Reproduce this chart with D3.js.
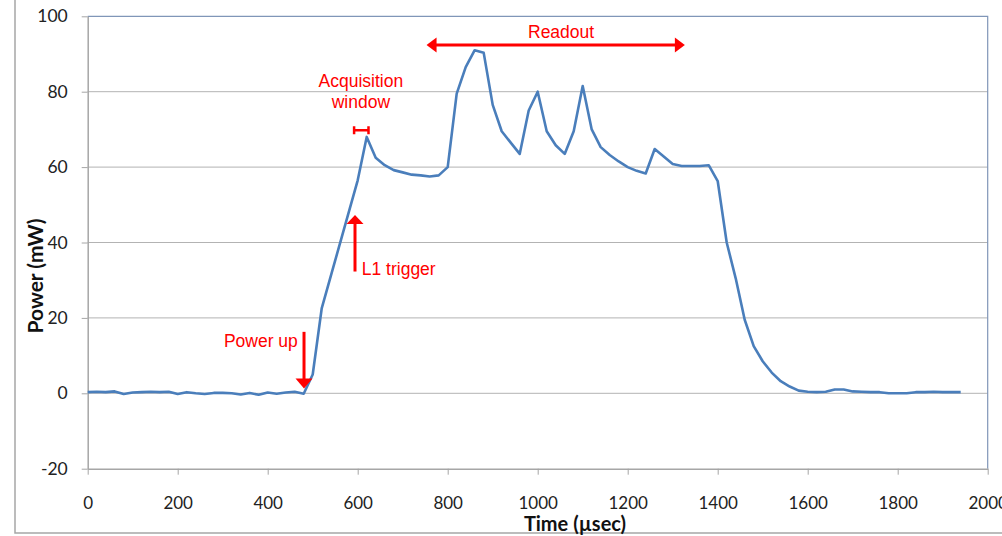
<!DOCTYPE html>
<html>
<head>
<meta charset="utf-8">
<script src="https://cdn.jsdelivr.net/npm/d3@7"></script>
<style>
  body { margin: 0; background: #fff; }
  svg { display: block; }
</style>
</head>
<body>
<svg id="chart" width="1002" height="536"></svg>
<script>
// ===============================
// Power vs time trace
// ===============================

// sample times (usec) and measured power (mW)
const times = [
  0, 20, 40, 60, 80, 100, 120, 140, 160, 180,
  200, 220, 240, 260, 280, 300, 320, 340, 360, 380,
  400, 420, 440, 460, 480, 500, 520, 540, 560, 580,
  600, 620, 640, 660, 680, 700, 720, 740, 760, 780,
  800, 820, 840, 860, 880, 900, 920, 940, 960, 980,
  1000, 1020, 1040, 1060, 1080, 1100, 1120, 1140, 1160, 1180,
  1200, 1220, 1240, 1260, 1280, 1300, 1320, 1340, 1360, 1380,
  1400, 1420, 1440, 1460, 1480, 1500, 1520, 1540, 1560, 1580,
  1600, 1620, 1640, 1660, 1680, 1700, 1720, 1740, 1760, 1780,
  1800, 1820, 1840, 1860, 1880, 1900, 1920, 1940
];
const power = [
  0.3, 0.4, 0.3, 0.5, -0.2, 0.2, 0.3, 0.4, 0.3, 0.4,
  -0.2, 0.3, 0.0, -0.2, 0.1, 0.1, 0.0, -0.3, 0.1, -0.4,
  0.2, -0.1, 0.2, 0.4, -0.1, 5, 22.5, 31, 39.5, 48,
  56.5, 68, 62.5, 60.5, 59.2, 58.6, 58, 57.8, 57.5, 57.8,
  60, 79.5, 86.5, 91, 90.3, 76.5, 69.5, 66.5, 63.5, 75,
  80, 69.5, 65.8, 63.5, 69.5, 81.5, 70, 65.3, 63.2, 61.5,
  60, 59, 58.3, 64.8, 62.8, 60.8, 60.3, 60.3, 60.3, 60.5,
  56.3, 40, 30.5, 19.5, 12.5, 8.5, 5.5, 3.2, 1.8, 0.7,
  0.4, 0.3, 0.4, 1, 1, 0.5, 0.4, 0.3, 0.3, 0,
  0, 0, 0.3, 0.3, 0.4, 0.3, 0.3, 0.3
];

const xTicks = [0, 200, 400, 600, 800, 1000, 1200, 1400, 1600, 1800, 2000];
const yTicks = [-20, 0, 20, 40, 60, 80, 100];

// annotations, in data units (usec, mW)
const readout = { t0: 753, t1: 1327, v: 92.4, label: 'Readout', tx: 1052, tv: 94.3 };
const acqWindow = { t0: 592, t1: 624, v: 69.8, lines: ['Acquisition', 'window'], tx: 607, tv: [81.2, 75.6] };
const l1Trigger = { t: 594, from: 32.3, to: 47.3, label: 'L1 trigger', tx: 609, tv: 31.4 };
const powerUp = { t: 480.7, from: 16.3, to: 1.3, label: 'Power up', tx: 467, tv: 12.3 };

const svg = d3.select('#chart');
const plotL = 87.7, plotR = 987.7, plotT = 16.3, plotB = 468.7;
const red = '#ff0000';
const tickFont = 'Lato, "Open Sans", sans-serif';

const x = d3.scaleLinear().domain([0, 2000]).range([plotL, plotR]);
const y = d3.scaleLinear().domain([-20, 100]).range([plotB, plotT]);

// outer chart frame
svg.append('path')
  .attr('d', `M15,0 V533 H1002`)
  .attr('fill', 'none')
  .attr('stroke', '#a6a6a6')
  .attr('stroke-width', 1.5);

// gridlines
svg.append('g')
  .selectAll('line')
  .data(yTicks.filter(d => d > -20 && d < 100))
  .enter()
  .append('line')
  .attr('x1', plotL)
  .attr('x2', plotR)
  .attr('y1', d => y(d))
  .attr('y2', d => y(d))
  .attr('stroke', '#b3b3b3')
  .attr('stroke-width', 1);

// plot area border (top + right)
svg.append('path')
  .attr('d', `M${plotL},${plotT} H${plotR} V${plotB}`)
  .attr('fill', 'none')
  .attr('stroke', '#8096b8')
  .attr('stroke-width', 1.2);

// y axis
const yAxis = svg.append('g')
  .attr('transform', `translate(${plotL},0)`)
  .call(d3.axisLeft(y).tickValues(yTicks).tickFormat(d => String(d))
    .tickSize(6).tickPadding(14).tickSizeOuter(0));
yAxis.select('.domain').attr('stroke', '#a6a6a6').attr('stroke-width', 1.5);
yAxis.selectAll('.tick line').attr('stroke', '#a6a6a6');
yAxis.selectAll('.tick text')
  .style('font-family', tickFont)
  .style('font-size', '17.5px')
  .attr('fill', '#222');

// x axis (sits at -20)
const xAxis = svg.append('g')
  .attr('transform', `translate(0,${plotB})`)
  .call(d3.axisBottom(x).tickValues(xTicks).tickFormat(d => String(d))
    .tickSize(6).tickPadding(22).tickSizeOuter(0));
xAxis.select('.domain').attr('stroke', '#a6a6a6').attr('stroke-width', 1.5);
xAxis.selectAll('.tick line').attr('stroke', '#a6a6a6');
xAxis.selectAll('.tick text')
  .style('font-family', tickFont)
  .style('font-size', '17px')
  .attr('fill', '#222');

// axis titles
svg.append('text')
  .attr('x', 575)
  .attr('y', 531)
  .attr('text-anchor', 'middle')
  .style('font-family', tickFont)
  .style('font-size', '20px')
  .style('font-weight', 'bold')
  .attr('fill', '#111')
  .text('Time (\u00b5sec)');

svg.append('text')
  .attr('transform', `translate(43,276) rotate(-90)`)
  .attr('text-anchor', 'middle')
  .style('font-family', tickFont)
  .style('font-size', '21px')
  .style('font-weight', 'bold')
  .attr('fill', '#111')
  .text('Power (mW)');

// the trace
const line = d3.line()
  .x(d => x(d[0]))
  .y(d => y(d[1]));

svg.append('path')
  .datum(d3.zip(times, power))
  .attr('d', line)
  .attr('fill', 'none')
  .attr('stroke', '#4a7ebb')
  .attr('stroke-width', 2.6)
  .attr('stroke-linejoin', 'round');

// ---- annotations ----
const ann = svg.append('g')
  .style('font-family', '"Liberation Sans", Arial, sans-serif')
  .style('font-size', '17.5px')
  .attr('fill', red);

// Readout: double-headed arrow
const ry = y(readout.v), rx0 = x(readout.t0), rx1 = x(readout.t1);
ann.append('line')
  .attr('x1', rx0 + 8).attr('x2', rx1 - 8)
  .attr('y1', ry).attr('y2', ry)
  .attr('stroke', red).attr('stroke-width', 3);
ann.append('path')
  .attr('d', `M${rx0},${ry} L${rx0 + 10},${ry - 7.5} L${rx0 + 10},${ry + 7.5} Z`);
ann.append('path')
  .attr('d', `M${rx1},${ry} L${rx1 - 10},${ry - 7.5} L${rx1 - 10},${ry + 7.5} Z`);
ann.append('text')
  .attr('x', x(readout.tx)).attr('y', y(readout.tv))
  .attr('text-anchor', 'middle')
  .text(readout.label);

// Acquisition window: small H bar
const ay = y(acqWindow.v), ax0 = x(acqWindow.t0), ax1 = x(acqWindow.t1);
ann.append('path')
  .attr('d', `M${ax0},${ay - 4} V${ay + 4} M${ax0},${ay} H${ax1} M${ax1},${ay - 4} V${ay + 4}`)
  .attr('fill', 'none')
  .attr('stroke', red).attr('stroke-width', 2.5);
acqWindow.lines.forEach((s, i) => {
  ann.append('text')
    .attr('x', x(acqWindow.tx)).attr('y', y(acqWindow.tv[i]))
    .attr('text-anchor', 'middle')
    .text(s);
});

// L1 trigger: up arrow
const lx = x(l1Trigger.t), ly0 = y(l1Trigger.from), ly1 = y(l1Trigger.to);
ann.append('line')
  .attr('x1', lx).attr('x2', lx)
  .attr('y1', ly0).attr('y2', ly1 + 8)
  .attr('stroke', red).attr('stroke-width', 3);
ann.append('path')
  .attr('d', `M${lx},${ly1} L${lx - 8.5},${ly1 + 9} L${lx + 8.5},${ly1 + 9} Z`);
ann.append('text')
  .attr('x', x(l1Trigger.tx)).attr('y', y(l1Trigger.tv))
  .text(l1Trigger.label);

// Power up: down arrow
const px = x(powerUp.t), py0 = y(powerUp.from), py1 = y(powerUp.to);
ann.append('line')
  .attr('x1', px).attr('x2', px)
  .attr('y1', py0).attr('y2', py1 - 8)
  .attr('stroke', red).attr('stroke-width', 3);
ann.append('path')
  .attr('d', `M${px},${py1} L${px - 8.5},${py1 - 10} L${px + 8.5},${py1 - 10} Z`);
ann.append('text')
  .attr('x', x(powerUp.tx)).attr('y', y(powerUp.tv))
  .attr('text-anchor', 'end')
  .text(powerUp.label);
</script>
</body>
</html>
